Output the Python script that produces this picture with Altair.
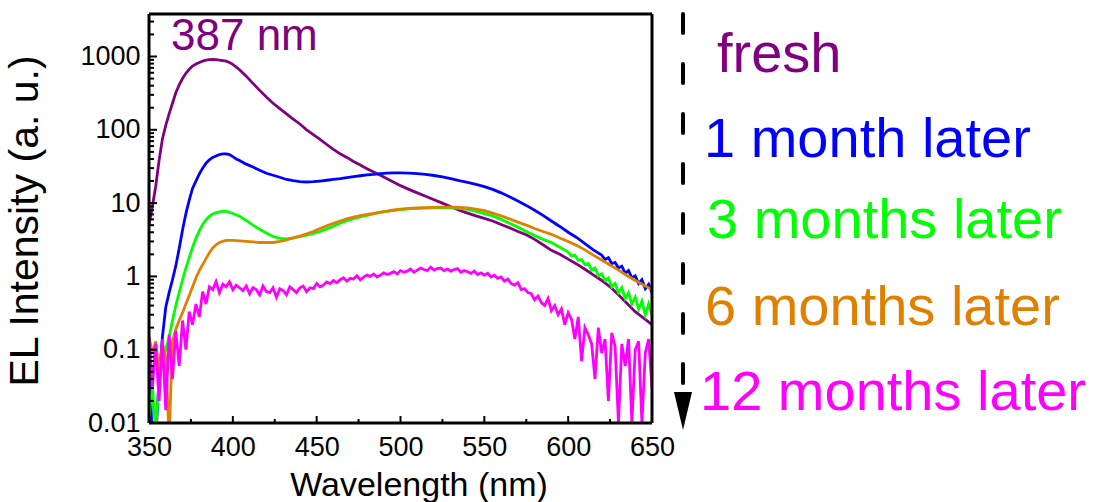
import altair as alt
import pandas as pd

FONT = "Liberation Sans"

# ---- electroluminescence spectra (wavelength in nm, intensity in a. u.) ----
fresh_nm = [350, 352, 354, 356, 358, 360, 362, 364, 366, 368, 370, 372, 374, 376, 378, 380,
            382, 384, 386, 388, 390, 392, 394, 396, 398, 400, 404, 408, 412, 416, 420, 424,
            428, 432, 436, 440, 444, 448, 452, 456, 460, 464, 468, 472, 476, 480, 484, 488,
            492, 496, 500, 505, 510, 515, 520, 525, 530, 535, 540, 545, 550, 555, 560, 565,
            570, 575, 580, 585, 590, 595, 600, 605, 610, 615, 620, 625, 630, 635, 640, 645, 650]
fresh_int = [5, 9, 17, 38, 75, 115, 165, 230, 320, 410, 500, 590, 670, 740, 790, 830,
             865, 890, 905, 910, 905, 895, 880, 865, 830, 780, 660, 540, 430, 345, 280, 230,
             195, 165, 140, 120, 100, 86, 74, 63, 54, 47, 42, 37, 33, 29.5, 26.5, 24,
             21.5, 19.3, 17.3, 15.4, 13.8, 12.4, 11.1, 10, 8.9, 8.0, 7.3, 6.7, 6.2, 5.7, 5.1, 4.6,
             4.1, 3.7, 3.2, 2.7, 2.27, 2.0, 1.72, 1.48, 1.25, 1.05, 0.88, 0.72, 0.56, 0.43, 0.33, 0.27, 0.22]

m1_nm = [350, 352, 354, 356, 358, 360, 362, 364, 366, 368, 370, 372, 374, 376, 378, 380,
         382, 384, 386, 388, 390, 392, 394, 396, 398, 400, 402, 404, 408, 412, 416, 420,
         424, 428, 432, 436, 440, 444, 448, 452, 456, 460, 464, 468, 472, 476, 480, 484,
         488, 492, 496, 500, 505, 510, 515, 520, 525, 530, 535, 540, 545, 550, 555, 560,
         565, 570, 575, 580, 585, 590, 595, 600, 605, 610, 615, 620, 622, 624, 626, 628,
         630, 632, 634, 636, 638, 640, 642, 644, 646, 648, 650]
m1_int = [0.12, 0.005, 0.006, 0.04, 0.15, 0.38, 0.6, 0.9, 1.4, 2.4, 4.3, 7.2, 11, 16, 20, 25,
          30, 35, 39, 42, 44, 46, 47, 47, 46, 43, 40, 38, 34, 31, 28, 25.5,
          24, 22.5, 21, 20.2, 19.6, 19.4, 19.6, 20, 20.5, 21, 21.5, 22.3, 23, 23.6, 24.2, 24.6,
          25.2, 25.6, 25.8, 25.8, 25.6, 25.2, 24.6, 23.8, 22.8, 21.5, 20.2, 19.2, 18, 16.8, 15.4, 13.8,
          12.2, 10.7, 9.3, 8, 6.8, 5.7, 4.8, 4.0, 3.4, 2.8, 2.3, 1.95, 1.7, 1.8, 1.5, 1.55,
          1.3, 1.38, 1.1, 1.2, 0.95, 1.02, 0.8, 0.9, 0.68, 0.78, 0.6]

m3_nm = [350, 352, 354, 356, 358, 360, 362, 364, 366, 368, 370, 372, 374, 376, 378, 380,
         382, 384, 386, 388, 390, 392, 394, 396, 398, 400, 404, 408, 412, 416, 420, 424,
         428, 432, 436, 440, 444, 448, 452, 456, 460, 464, 468, 472, 476, 480, 484, 488,
         492, 496, 500, 505, 510, 515, 520, 525, 530, 535, 540, 545, 550, 555, 560, 565,
         570, 575, 580, 585, 590, 595, 600, 602, 604, 606, 608, 610, 612, 614, 616, 618,
         620, 622, 624, 626, 628, 630, 632, 634, 636, 638, 640, 642, 644, 646, 648, 650]
m3_int = [0.012, 0.03, 0.008, 0.035, 0.07, 0.1, 0.15, 0.25, 0.4, 0.6, 0.9, 1.3, 1.8, 2.5, 3.3, 4.2,
          5.1, 5.9, 6.6, 7.1, 7.4, 7.6, 7.7, 7.7, 7.5, 7.2, 6.6, 5.8, 5.0, 4.4, 3.9, 3.5,
          3.3, 3.25, 3.35, 3.5, 3.65, 3.85, 4.1, 4.45, 4.85, 5.3, 5.75, 6.15, 6.5, 6.8, 7.1, 7.45,
          7.7, 7.95, 8.15, 8.35, 8.45, 8.55, 8.6, 8.65, 8.6, 8.5, 8.2, 7.7, 7.2, 6.7, 6.0, 5.3,
          4.7, 4.1, 3.6, 3.2, 2.9, 2.5, 2.15, 1.9, 1.95, 1.65, 1.7, 1.45, 1.5, 1.22, 1.3, 1.02,
          1.08, 0.88, 0.95, 0.72, 0.8, 0.6, 0.7, 0.5, 0.6, 0.42, 0.52, 0.36, 0.46, 0.3, 0.42, 0.3]

m6_nm = [350, 352, 354, 356, 358, 360, 362, 364, 366, 368, 370, 372, 374, 376, 378, 380,
         382, 384, 386, 388, 390, 392, 394, 396, 398, 400, 404, 408, 412, 416, 420, 424,
         428, 432, 436, 440, 444, 448, 452, 456, 460, 464, 468, 472, 476, 480, 484, 488,
         492, 496, 500, 505, 510, 515, 520, 525, 530, 535, 540, 545, 550, 555, 560, 565,
         570, 575, 580, 585, 590, 595, 600, 605, 610, 615, 620, 625, 630, 635, 640, 645, 650]
m6_int = [0.15, 0.09, 0.13, 0.05, 0.12, 0.08, 0.006, 0.13, 0.19, 0.25, 0.32, 0.42, 0.55, 0.72, 0.95, 1.2,
          1.45, 1.75, 2.1, 2.45, 2.7, 2.9, 3.0, 3.1, 3.1, 3.1, 3.05, 3.0, 2.95, 2.9, 2.9, 2.9,
          3.0, 3.15, 3.35, 3.55, 3.8, 4.1, 4.5, 4.9, 5.3, 5.7, 6.1, 6.45, 6.75, 7.0, 7.25, 7.55,
          7.8, 8.05, 8.25, 8.45, 8.6, 8.7, 8.75, 8.8, 8.8, 8.75, 8.6, 8.3, 7.9, 7.3, 6.7, 6.1,
          5.5, 5.0, 4.5, 4.1, 3.75, 3.35, 3.0, 2.65, 2.3, 1.95, 1.67, 1.43, 1.22, 1.03, 0.88, 0.76, 0.66]

m12_nm = list(range(350, 652, 2))
m12_int = [0.15, 0.03, 0.12, 0.02, 0.14, 0.015, 0.16, 0.04, 0.18, 0.06, 0.25, 0.1, 0.33, 0.22, 0.42, 0.28,
           0.62, 0.42, 0.72, 0.66, 0.85, 0.6, 0.78, 0.72, 0.84, 0.66, 0.76, 0.7, 0.64, 0.74, 0.58, 0.7,
           0.66, 0.56, 0.74, 0.62, 0.6, 0.7, 0.52, 0.68, 0.64, 0.56, 0.72, 0.66, 0.6, 0.7, 0.74, 0.62,
           0.7, 0.68, 0.8, 0.72, 0.76, 0.84, 0.8, 0.88, 0.82, 0.9, 0.96, 0.86, 0.94, 0.92, 1.02, 0.9,
           0.98, 1.04, 1.0, 1.08, 0.98, 1.04, 1.12, 1.06, 1.1, 1.16, 1.08, 1.2, 1.14, 1.18, 1.26, 1.14,
           1.22, 1.3, 1.24, 1.2, 1.34, 1.22, 1.28, 1.3, 1.2, 1.26, 1.18, 1.24, 1.28, 1.14, 1.2, 1.16,
           1.1, 1.18, 1.06, 1.12, 1.04, 1.1, 0.98, 1.04, 0.94, 0.98, 0.86, 0.92, 0.8, 0.76, 0.82, 0.66,
           0.68, 0.6, 0.58, 0.48, 0.54, 0.44, 0.4, 0.5, 0.34, 0.4, 0.3, 0.36, 0.22, 0.32, 0.26, 0.14,
           0.28, 0.07, 0.2, 0.16, 0.12, 0.04, 0.2, 0.09, 0.14, 0.02, 0.17, 0.11, 0.01, 0.12, 0.06, 0.14,
           0.01, 0.1, 0.13, 0.01, 0.09, 0.14, 0.03]

series_names = ["fresh", "1 month later", "3 months later", "6 months later", "12 months later"]
series_colors = ["#800080", "#0000FF", "#00FF00", "#E08000", "#FF00FF"]
series_data = [(fresh_nm, fresh_int), (m1_nm, m1_int), (m3_nm, m3_int),
               (m6_nm, m6_int), (m12_nm, m12_int)]

x_tick_labels = [350, 400, 450, 500, 550, 600, 650]
x_minor_ticks = [375, 425, 475, 525, 575, 625]
y_tick_labels = [0.01, 0.1, 1, 10, 100, 1000]
y_minor_ticks = [m * d for d in [0.01, 0.1, 1, 10, 100, 1000] for m in range(2, 10) if m * d < 3800]

peak_label = "387 nm"
x_title = "Wavelength (nm)"
y_title = "EL Intensity (a. u.)"

# ---- layout ----
W, H = 503, 409
xscale = alt.Scale(domain=[350, 650], nice=False, zero=False)
yscale = alt.Scale(type="log", domain=[0.01, 3800], nice=False)
xaxis = alt.Axis(values=x_tick_labels, title=None, grid=False, domain=False, ticks=False,
                 labelFontSize=27, labelPadding=11, labelColor="black", labelFont=FONT,
                 labelFlush=False, labelOverlap=False, format="d")
yaxis = alt.Axis(values=y_tick_labels, title=None, grid=False, domain=False, ticks=False,
                 labelFontSize=27, labelPadding=9, labelColor="black", labelFont=FONT,
                 labelFlush=False, labelOverlap=False, format="~g")

layers = []
for name, color, (nm, val) in zip(series_names, series_colors, series_data):
    df = pd.DataFrame({"nm": nm, "val": val})
    layers.append(
        alt.Chart(df).mark_line(color=color, strokeWidth=2.8, clip=True).encode(
            x=alt.X("nm:Q", scale=xscale, axis=xaxis),
            y=alt.Y("val:Q", scale=yscale, axis=yaxis),
        )
    )

# plot frame: four black edges
one = pd.DataFrame({"a": [0]})
frame_style = dict(color="#000000", strokeWidth=3)
layers += [
    alt.Chart(one).mark_rule(**frame_style).encode(x=alt.value(0), x2=alt.value(W), y=alt.value(0), y2=alt.value(0)),
    alt.Chart(one).mark_rule(**frame_style).encode(x=alt.value(0), x2=alt.value(W), y=alt.value(H), y2=alt.value(H)),
    alt.Chart(one).mark_rule(**frame_style).encode(x=alt.value(0), x2=alt.value(0), y=alt.value(0), y2=alt.value(H)),
    alt.Chart(one).mark_rule(**frame_style).encode(x=alt.value(W), x2=alt.value(W), y=alt.value(0), y2=alt.value(H)),
]

# inward ticks on the left and bottom frame edges
def y_ticks(vals, length):
    return alt.Chart(pd.DataFrame({"v": vals})).mark_rule(color="black", strokeWidth=2).encode(
        y=alt.Y("v:Q", scale=yscale, axis=yaxis), x=alt.value(0), x2=alt.value(length))

def x_ticks(vals, length):
    return alt.Chart(pd.DataFrame({"v": vals})).mark_rule(color="black", strokeWidth=2).encode(
        x=alt.X("v:Q", scale=xscale, axis=xaxis), y=alt.value(H), y2=alt.value(H - length))

layers += [y_ticks(y_tick_labels, 8), y_ticks(y_minor_ticks, 5),
           x_ticks(x_tick_labels, 7), x_ticks(x_minor_ticks, 4)]

def label(text, x, y, size, color="black", angle=0, align="left"):
    return alt.Chart(pd.DataFrame({"t": [text]})).mark_text(
        font=FONT, fontSize=size, color=color, align=align, baseline="alphabetic", angle=angle
    ).encode(text="t:N", x=alt.value(x), y=alt.value(y))

layers.append(label(peak_label, 22, 36, 44, series_colors[0]))
layers.append(label(x_title, 270, 482, 34, align="center"))
layers.append(label(y_title, -111, 207, 41, angle=270, align="center"))

legend_pos = [(568, 58), (555, 143), (558, 224), (556, 311), (551, 396)]
for name, color, (lx, ly) in zip(series_names, series_colors, legend_pos):
    layers.append(label(name, lx, ly, 56, color))

# dashed arrow running down beside the legend
layers.append(alt.Chart(one).mark_rule(
    color="black", strokeWidth=4, strokeDash=[19, 31], strokeCap="round"
).encode(x=alt.value(534), y=alt.value(0), y2=alt.value(370)))
layers.append(alt.Chart(one).mark_point(
    shape="M-1,-2.1L1,-2.1L0,2.1Z", filled=True, color="black", opacity=1, size=324, strokeWidth=0
).encode(x=alt.value(534), y=alt.value(397)))

chart = alt.layer(*layers).properties(
    width=W, height=H,
    autosize=alt.AutoSizeParams(type="none"),
    padding={"left": 149, "top": 14, "right": 444, "bottom": 79},
    background="white",
).configure(font=FONT).configure_view(strokeOpacity=0)

chart.save("out.html", embed_options={"renderer": "svg", "actions": False})
